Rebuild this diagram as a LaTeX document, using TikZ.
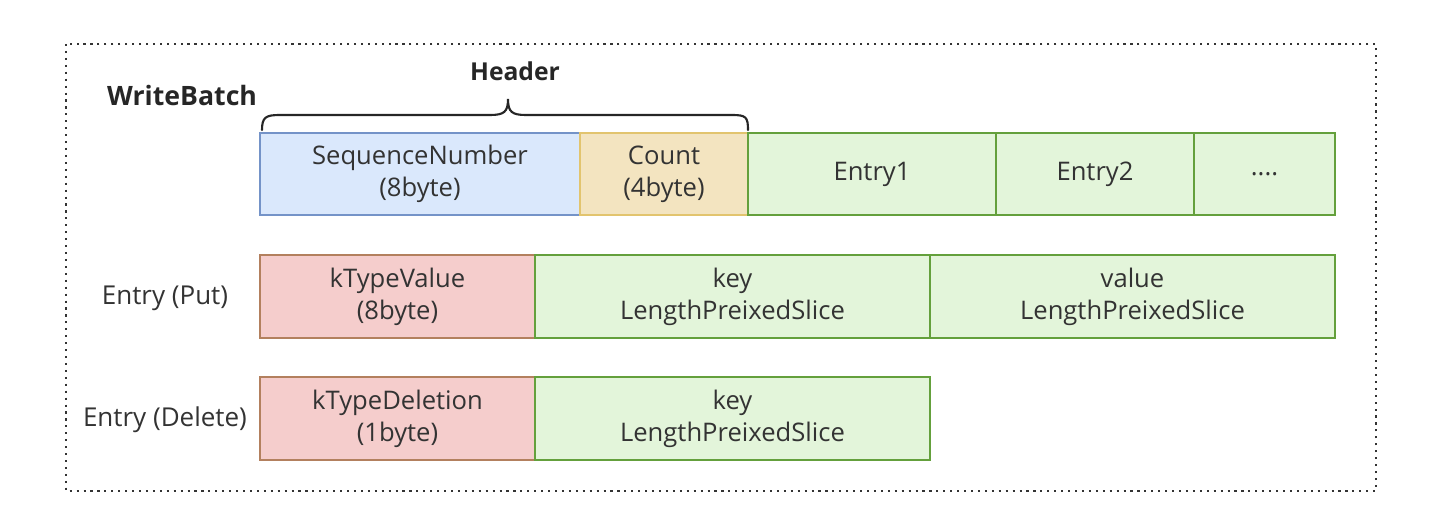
\documentclass[tikz,border=0pt]{standalone}
\usepackage{fontspec}
\setmainfont{Open Sans}
\definecolor{txt}{HTML}{333333}
\definecolor{bluef}{HTML}{DAE8FC}\definecolor{blued}{HTML}{7493C8}
\definecolor{yelf}{HTML}{F3E4C0}\definecolor{yeld}{HTML}{E2C46E}
\definecolor{grnf}{HTML}{E3F5DA}\definecolor{grnd}{HTML}{64A03C}
\definecolor{redf}{HTML}{F5CDCC}\definecolor{redd}{HTML}{B3805E}
\begin{document}
\begin{tikzpicture}[x=0.75pt,y=-0.75pt,
  cell/.style={rectangle,draw,line width=1.6pt,inner sep=0pt,align=center,text=txt,
    font=\fontsize{19.2}{24}\selectfont},
  row1/.style={cell,minimum height=61.5pt},
  row2/.style={cell,minimum height=62.25pt},
  blue/.style={fill=bluef,draw=blued},
  yel/.style={fill=yelf,draw=yeld},
  grn/.style={fill=grnf,draw=grnd},
  red/.style={fill=redf,draw=redd},
  lab/.style={text=txt,font=\fontsize{19.5}{24}\selectfont},
  boldlab/.style={text=black!85,font=\fontsize{20}{24}\selectfont\bfseries}]
\useasboundingbox (0,0) rectangle (1448,530);
\draw[line width=1.8pt,black!80,dash pattern=on 1.6pt off 3.6pt] (66,44) rectangle (1376,491);
% row 1
\node[row1,blue,minimum width=240pt] (seq) at (420,174) {SequenceNumber\\(8byte)};
\node[row1,yel,minimum width=126pt] (cnt) at (664,174) {Count\\(4byte)};
\node[row1,grn,minimum width=186pt] (e1) at (872,174) {Entry1};
\node[row1,grn,minimum width=148.5pt] (e2) at (1095,174) {Entry2};
\node[row1,grn,minimum width=105.75pt] (edots) at (1264.5,174) {....};
% row 2
\node[row2,red,minimum width=206.25pt] (ktv) at (397.5,296.5) {kTypeValue\\(8byte)};
\node[row2,grn,minimum width=296.25pt] (pkey) at (732.5,296.5) {key\\LengthPreixedSlice};
\node[row2,grn,minimum width=303.75pt] (pval) at (1132.5,296.5) {value\\LengthPreixedSlice};
% row 3
\node[row2,red,minimum width=206.25pt] (ktd) at (397.5,418.5) {kTypeDeletion\\(1byte)};
\node[row2,grn,minimum width=296.25pt] (dkey) at (732.5,418.5) {key\\LengthPreixedSlice};
% labels
\node[boldlab] (wb) at (182,96) {WriteBatch};
\node[boldlab,font=\fontsize{18.5}{24}\selectfont\bfseries] (hdr) at (515,71) {Header};
\node[lab] (lput) at (165,298) {Entry (Put)};
\node[lab] (ldel) at (165,420) {Entry (Delete)};
% brace
\draw[line width=1.6pt,black!85,line cap=round]
  (262,130) .. controls (262,117) and (266,115) .. (280,115) -- (490,115)
  .. controls (504,115) and (508,112) .. (508,99)
  .. controls (508,112) and (512,115) .. (526,115) -- (732,115)
  .. controls (746,115) and (748,117) .. (748,130);
\end{tikzpicture}
\end{document}
